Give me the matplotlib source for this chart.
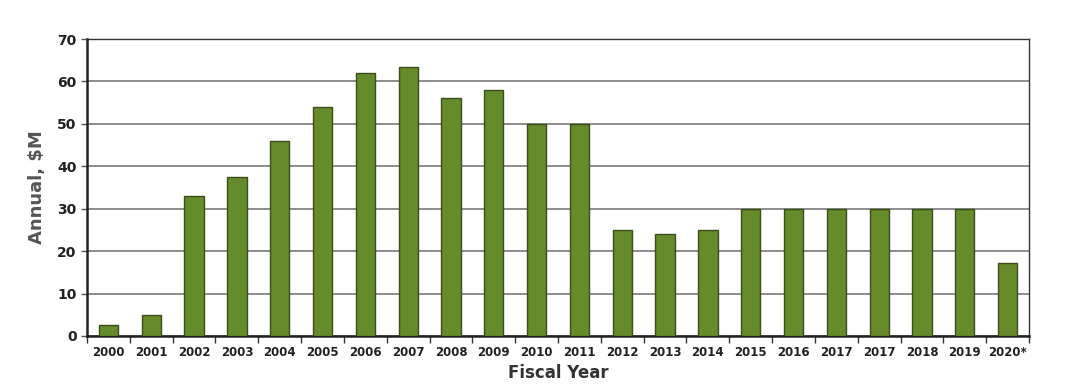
import matplotlib
matplotlib.use("Agg")
import matplotlib.pyplot as plt
import numpy as np

labels = ["2000", "2001", "2002", "2003", "2004", "2005", "2006", "2007", "2008",
          "2009", "2010", "2011", "2012", "2013", "2014", "2015", "2016", "2017",
          "2017", "2018", "2019", "2020*"]
values = [2.5, 5, 33, 37.5, 46, 54, 62, 63.4, 56, 58, 50, 50, 25, 24, 25,
          30, 30, 30, 30, 30, 30, 17.2]
yticks = [0, 10, 20, 30, 40, 50, 60, 70]

fig = plt.figure(figsize=(10.8, 3.92), dpi=100)
ax = fig.add_axes([0.0806, 0.1429, 0.8722, 0.7576])

x = np.arange(len(labels))
ax.set_axisbelow(True)
ax.yaxis.grid(True, color="#8c8c8c", linewidth=1.4)
ax.bar(x, values, width=0.45, color="#658b2a", edgecolor="#3b4d1c", linewidth=1.0, zorder=3)

ax.set_xlim(-0.5, len(labels) - 0.5)
ax.set_ylim(0, 70)
ax.set_yticks(yticks)
ax.set_yticklabels([str(v) for v in yticks], fontsize=10, fontweight="bold", color="#222222")

ax.set_xticks(x)
ax.set_xticklabels(labels, fontsize=8.5, fontweight="bold", color="#222222")
ax.tick_params(axis="x", which="major", length=0, pad=7)
ax.set_xticks(np.arange(-0.5, len(labels) + 0.5, 1), minor=True)
ax.tick_params(axis="x", which="minor", length=5, width=1, color="#333333", direction="out")
ax.tick_params(axis="y", length=4, width=1, color="#555555")

for s in ["left", "bottom"]:
    ax.spines[s].set_color("#222222")
    ax.spines[s].set_linewidth(1.8)
for s in ["top", "right"]:
    ax.spines[s].set_color("#333333")
    ax.spines[s].set_linewidth(1.0)

ax.set_ylabel("Annual, $M", fontsize=13, fontweight="bold", color="#555555", labelpad=8)
ax.set_xlabel("Fiscal Year", fontsize=12, fontweight="bold", color="#333333", labelpad=4)

fig.savefig("out.png", dpi=100)
